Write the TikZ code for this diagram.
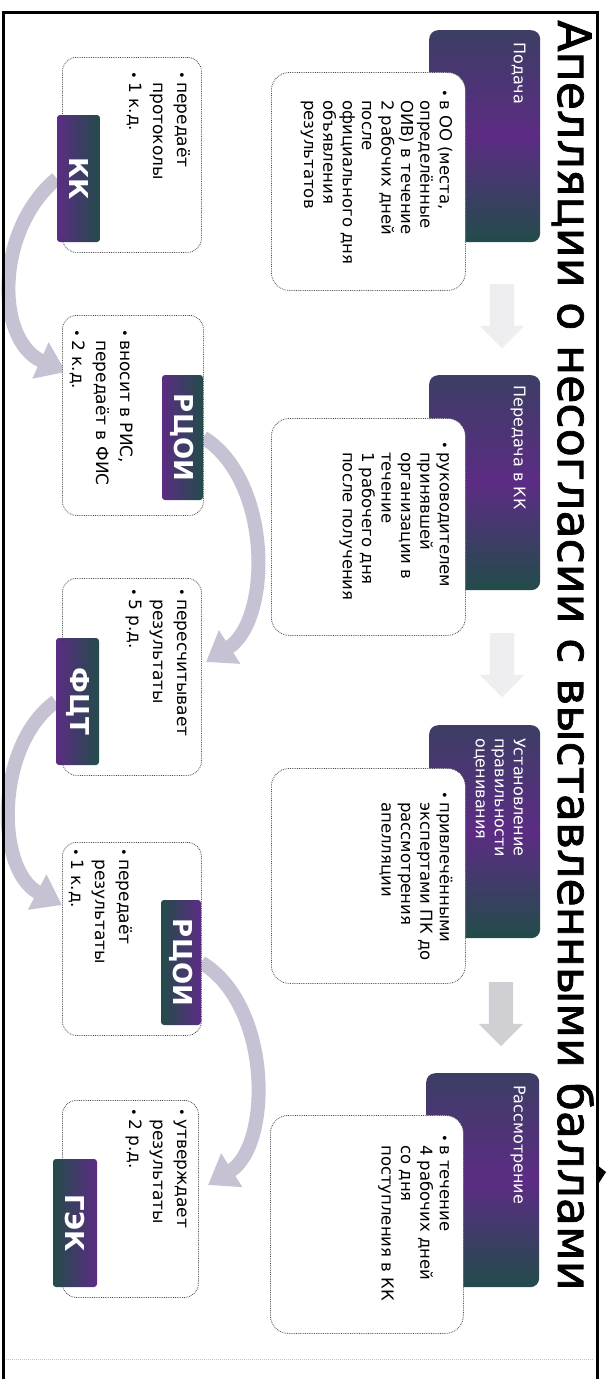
\documentclass[tikz,border=0pt]{standalone}
\usepackage{fontspec}
\setmainfont{DejaVu Sans}
\newfontfamily\titlefont{DejaVu Sans}[FakeBold=1.6]
\usetikzlibrary{arrows.meta,shapes.arrows,calc}
\definecolor{purp}{RGB}{92,44,132}
\definecolor{tealc}{RGB}{34,76,74}
\definecolor{arcc}{RGB}{198,194,212}
\definecolor{blkarr}{RGB}{208,208,212}
\definecolor{faint}{RGB}{238,238,240}
\pgfdeclarelayer{bg}
\pgfsetlayers{bg,main}
\tikzset{
  hdr/.style={draw=none, rounded corners=9pt, anchor=north west, inner sep=0pt,
    top color=tealc!55!purp, bottom color=tealc, middle color=purp},
  wbox/.style={draw=gray!60!black, densely dotted, line width=0.8pt, fill=white,
    rounded corners=18pt, anchor=north west, inner sep=0pt},
  lwbox/.style={wbox, rounded corners=14pt, minimum width=139pt, minimum height=195pt},
  lbl/.style={rotate=-90, rounded corners=3pt, inner sep=0pt, minimum width=127pt,
    minimum height=43pt, text=white, font=\fontsize{26}{26}\selectfont\bfseries},
  htext/.style={rotate=-90, anchor=north west, inner sep=0pt, text=white,
    font=\fontsize{16}{19}\selectfont},
  utext/.style={rotate=-90, anchor=north west, inner sep=0pt,
    font=\fontsize{16.5}{19.4}\selectfont},
  ltext/.style={rotate=-90, anchor=north west, inner sep=0pt,
    font=\fontsize{17}{24}\selectfont},
  arcarrow/.style={draw=arcc, line width=14pt, -{Triangle[width=38pt,length=28pt]}},
  blockarr/.style={single arrow, rotate=-90, inner xsep=0pt, inner ysep=12pt,
    single arrow head extend=10pt, minimum height=64pt, draw=none},
}
\newcommand{\bl}{\makebox[11pt][l]{\fontsize{13}{13}\selectfont •}}
\begin{document}
\begin{tikzpicture}[x=1pt,y=-1pt]
\useasboundingbox (0,0) rectangle (607,1379);
\begin{pgfonlayer}{bg}
\fill[white] (0,0) rectangle (607,1379);
\end{pgfonlayer}
% frame
\draw[line width=3pt, black] (3,1379) -- (3,12) -- (597,12) -- (597,1379);
\draw[gray!45, densely dotted, line width=1pt] (6,1359) -- (594,1359);
\fill[black] (597,1165) -- (606,1172) -- (597,1186) -- cycle;
% title
\node[rotate=-90, anchor=base west, inner sep=0pt, font=\titlefont\fontsize{46}{46}\selectfont] (title) at (558,20)
  {Апелляции о несогласии с выставленными баллами};

% ---------- upper row ----------
\node[hdr, minimum width=111pt, minimum height=212pt] (h1) at (429,30) {};
\node[wbox, minimum width=194pt, minimum height=218pt] (u1) at (271,72) {};
\node[hdr, minimum width=111pt, minimum height=215pt] (h2) at (429,375) {};
\node[wbox, minimum width=194pt, minimum height=217pt] (u2) at (271,418) {};
\node[hdr, minimum width=111pt, minimum height=213pt] (h3) at (429,725) {};
\node[wbox, minimum width=194pt, minimum height=215pt] (u3) at (271,768) {};
\node[hdr, minimum width=113pt, minimum height=214pt] (h4) at (426,1073) {};
\node[wbox, minimum width=193pt, minimum height=218pt] (u4) at (270,1115) {};

\node[htext] (ht1) at (527.3,42) {\begin{tabular}{@{}l@{}}Подача\end{tabular}};
\node[htext] (ht2) at (527.3,385) {\begin{tabular}{@{}l@{}}Передача в КК\end{tabular}};
\node[htext] (ht3) at (527.3,738) {\begin{tabular}{@{}l@{}}Установление\\правильности\\оценивания\end{tabular}};
\node[htext] (ht4) at (527.3,1085) {\begin{tabular}{@{}l@{}}Рассмотрение\end{tabular}};

\node[utext] (ut1) at (453.6,89) {\begin{tabular}{@{}l@{}l@{}}
\bl & в ОО (места,\\ & определённые\\ & ОИВ) в течение\\ & 2 рабочих дней\\
 & после\\ & официального дня\\ & объявления\\ & результатов\end{tabular}};
\node[utext] (ut2) at (453.6,441) {\begin{tabular}{@{}l@{}l@{}}
\bl & руководителем\\ & принявшей\\ & организации в\\ & течение\\
 & 1 рабочего дня\\ & после получения\end{tabular}};
\node[utext] (ut3) at (453.6,791) {\begin{tabular}{@{}l@{}l@{}}
\bl & привлечёнными\\ & экспертами ПК до\\ & рассмотрения\\ & апелляции\end{tabular}};
\node[utext] (ut4) at (453.6,1134) {\begin{tabular}{@{}l@{}l@{}}
\bl & в течение\\ & 4 рабочих дней\\ & со дня\\ & поступления в КК\end{tabular}};

\node[blockarr, fill=faint] (ar1) at (502,310) {};
\node[blockarr, fill=faint] (ar2) at (502,659) {};
\node[blockarr, fill=blkarr] (ar3) at (501,1008) {};

% ---------- lower row ----------
\coordinate (e1) at (66,372);
\coordinate (e2) at (206,662);
\coordinate (e3) at (62,905);
\coordinate (e4) at (208,1185);

\node[lwbox] (l1) at (62,57) {};
\node[lwbox, minimum height=200pt, minimum width=141pt] (l2) at (62,315) {};
\node[lwbox, minimum height=197pt] (l3) at (62,578) {};
\node[lwbox, minimum height=193pt] (l4) at (62,842) {};
\node[lwbox, minimum height=197pt, minimum width=136pt] (l5) at (62,1100) {};

\node[lbl, left color=purp, right color=tealc] (kk) at (78.5,178.5) {КК};
\node[lbl, left color=purp, right color=tealc, minimum width=125pt, minimum height=41pt] (rc1) at (182.5,437.5) {РЦОИ};
\node[lbl, left color=purp, right color=tealc] (fct) at (77.5,701.5) {ФЦТ};
\node[lbl, left color=tealc, right color=purp, minimum width=125pt, minimum height=40pt] (rc2) at (181,962.5) {РЦОИ};
\node[lbl, left color=tealc, right color=purp, minimum width=128pt, minimum height=44pt] (gek) at (75,1223) {ГЭК};

\begin{pgfonlayer}{bg}
\draw[arcarrow] (kk.south) .. controls (-5,230) and (-5,340) .. (e1);
\draw[arcarrow] (rc1.north) .. controls (272,480) and (272,620) .. (e2);
\draw[arcarrow] (fct.south) .. controls (-5,745) and (-5,870) .. (e3);
\draw[arcarrow] (rc2.north) .. controls (272,1005) and (272,1145) .. (e4);
\end{pgfonlayer}

\node[ltext] (lt1) at (194,71) {\begin{tabular}{@{}l@{}l@{}}
\bl & передаёт\\ & протоколы\\ \bl & 1 к.д.\end{tabular}};
\node[ltext] (lt2) at (137,329) {\begin{tabular}{@{}l@{}l@{}}
\bl & вносит в РИС,\\ & передаёт в ФИС\\ \bl & 2 к.д.\end{tabular}};
\node[ltext] (lt3) at (194,588) {\begin{tabular}{@{}l@{}l@{}}
\bl & пересчитывает\\ & результаты\\ \bl & 5 р.д.\end{tabular}};
\node[ltext] (lt4) at (136,848) {\begin{tabular}{@{}l@{}l@{}}
\bl & передаёт\\ & результаты\\ \bl & 1 к.д.\end{tabular}};
\node[ltext] (lt5) at (194,1108) {\begin{tabular}{@{}l@{}l@{}}
\bl & утверждает\\ & результаты\\ \bl & 2 р.д.\end{tabular}};
\end{tikzpicture}
\end{document}
